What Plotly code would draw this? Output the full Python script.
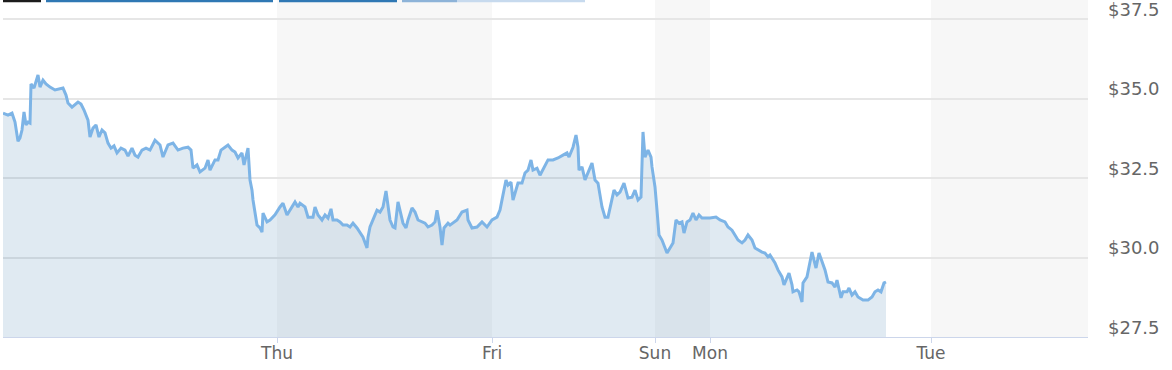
import plotly.graph_objects as go

# Trading-time axis (weekend gap collapsed); unit = session time index
session_t = [3, 8, 12, 15, 18, 20, 22, 24, 26, 28, 30, 31, 34, 36, 38, 40, 43, 46, 50, 55,
             60, 63, 66, 68, 72, 75, 78, 81, 84, 88, 90, 93, 96, 99, 102, 105, 108, 111, 114, 117,
             121, 125, 128, 132, 135, 138, 142, 146, 150, 155, 160, 163, 168, 173, 178, 183, 188, 191, 193, 197,
             200, 205, 208, 210, 215, 218, 221, 225, 228, 232, 235, 238, 242, 244, 248, 250, 252, 253, 256, 257,
             260, 262, 263, 267, 270, 275, 280, 283, 287, 290, 295, 298, 300, 305, 308, 313, 315, 318, 322, 325,
             328, 331, 333, 337, 340, 343, 347, 350, 353, 357, 360, 363, 367, 368, 370, 373, 377, 380, 383, 386,
             388, 390, 393, 395, 398, 401, 403, 406, 408, 412, 415, 418, 422, 425, 428, 432, 435, 437, 440, 442,
             444, 448, 450, 457, 462, 467, 468, 472, 477, 482, 487, 492, 497, 500, 503, 506, 508, 511, 513, 516,
             518, 522, 525, 528, 531, 533, 537, 540, 544, 548, 553, 558, 563, 567, 569, 573, 576, 578, 579, 582,
             585, 588, 592, 595, 598, 602, 605, 608, 611, 614, 617, 620, 624, 628, 632, 635, 638, 641, 643, 645,
             648, 651, 652, 655, 657, 659, 662, 664, 667, 670, 673, 676, 679, 682, 684, 687, 690, 693, 696, 699,
             702, 705, 710, 716, 720, 725, 728, 732, 735, 738, 742, 745, 748, 752, 755, 758, 762, 765, 768, 770,
             775, 778, 782, 784, 787, 789, 792, 793, 797, 799, 802, 803, 807, 810, 812, 814, 816, 819, 822, 825,
             828, 832, 835, 837, 841, 843, 847, 849, 852, 855, 858, 863, 868, 872, 875, 878, 881, 884, 886]

price = [34.54, 34.48, 34.54, 34.26, 33.66, 33.76, 34.01, 34.58, 34.17, 34.26, 34.23, 35.46, 35.33, 35.58, 35.74, 35.36, 35.58, 35.46, 35.36, 35.27,
         35.30, 35.33, 35.11, 34.86, 34.73, 34.80, 34.89, 34.83, 34.64, 34.32, 33.79, 34.07, 34.17, 33.79, 34.01, 33.92, 33.60, 33.44, 33.51, 33.29,
         33.44, 33.38, 33.19, 33.44, 33.22, 33.16, 33.38, 33.44, 33.38, 33.69, 33.54, 33.16, 33.54, 33.60, 33.38, 33.44, 33.47, 33.38, 32.81, 32.91,
         32.69, 32.81, 33.07, 32.75, 33.07, 33.07, 33.38, 33.47, 33.54, 33.38, 33.32, 33.13, 33.29, 32.91, 33.44, 32.44, 32.12, 31.81, 31.27, 31.02,
         30.93, 30.80, 31.40, 31.12, 31.18, 31.34, 31.59, 31.71, 31.34, 31.49, 31.75, 31.59, 31.71, 31.59, 31.27, 31.27, 31.59, 31.34, 31.18, 31.34,
         31.24, 31.53, 31.18, 31.18, 31.12, 31.02, 31.02, 30.96, 31.08, 30.93, 30.80, 30.64, 30.30, 30.64, 30.96, 31.18, 31.49, 31.43, 31.59, 32.09,
         31.59, 31.18, 30.96, 30.93, 31.75, 31.40, 31.08, 30.93, 31.18, 31.56, 31.43, 31.18, 31.12, 31.08, 30.96, 31.02, 31.12, 31.49, 30.96, 30.39,
         30.93, 31.08, 31.02, 31.18, 31.43, 31.49, 31.18, 30.93, 30.96, 31.12, 30.96, 31.18, 31.27, 31.49, 31.97, 32.44, 32.28, 32.37, 31.81, 32.12,
         32.34, 32.34, 32.66, 32.75, 33.07, 32.75, 32.81, 32.59, 32.81, 33.07, 33.07, 33.13, 33.22, 33.29, 33.16, 33.47, 33.85, 33.47, 32.75, 32.85,
         32.44, 32.66, 32.97, 32.44, 32.34, 31.59, 31.27, 31.27, 31.65, 32.12, 31.97, 32.06, 32.34, 31.87, 31.90, 32.12, 31.81, 31.90, 33.95, 33.16,
         33.38, 33.16, 32.85, 32.22, 31.49, 30.71, 30.55, 30.39, 30.14, 30.30, 30.46, 31.18, 31.08, 31.12, 30.77, 31.12, 31.18, 31.40, 31.18, 31.34,
         31.24, 31.24, 31.24, 31.27, 31.18, 31.12, 30.96, 30.86, 30.71, 30.55, 30.46, 30.55, 30.71, 30.55, 30.30, 30.24, 30.17, 30.14, 30.02, 30.08,
         29.83, 29.61, 29.39, 29.14, 29.39, 29.51, 29.14, 28.92, 28.98, 28.92, 28.60, 29.20, 29.39, 29.86, 30.17, 29.92, 29.67, 30.14, 29.86, 29.61,
         29.23, 29.20, 29.07, 29.29, 28.73, 28.92, 28.92, 29.04, 28.82, 28.92, 28.76, 28.66, 28.66, 28.76, 28.92, 28.98, 28.92, 29.20, 29.23]

day_labels = ["Thu", "Fri", "Sun", "Mon", "Tue"]
day_starts = [277, 492, 655, 710, 931]
axis_end = 1088
axis_start = 3
# alternate-day shaded bands (start, end)
band_days = [(277, 492), (655, 710), (931, 1088)]

y_ticks = [27.5, 30.0, 32.5, 35.0, 37.5]
y_ticktext = ["$27.5", "$30.0", "$32.5", "$35.0", "$37.5"]
y_range = [27.5, 38.1]

FONT = "DejaVu Sans"
LINE = "#7db4e6"
LABEL = "#666666"

fig = go.Figure()
fig.add_trace(go.Scatter(
    x=session_t, y=price, mode="lines",
    line=dict(color=LINE, width=3),
    fill="tozeroy", fillcolor="rgba(70,130,180,0.17)",
    hoverinfo="skip", showlegend=False,
))

shapes = []
for a, b in band_days:
    shapes.append(dict(type="rect", xref="x", yref="paper", x0=a, x1=b, y0=0, y1=1,
                       fillcolor="#f7f7f7", line=dict(width=0), layer="below"))

# cut-off toolbar strip at very top (decoration)
top_strip = [(3, 41, "#1c1c1c"), (46, 273, "#2f78b4"), (279, 397, "#2f78b4"),
             (402, 457, "#8db3d8"), (457, 585, "#c7daee")]
for a, b, c in top_strip:
    shapes.append(dict(type="rect", xref="x", yref="paper", x0=a, x1=b, y0=1 - 2.2 / 337, y1=1,
                       fillcolor=c, line=dict(width=0), layer="above"))

# y-axis labels sit just above their gridlines
annotations = [dict(x=1, xref="paper", y=v, yref="y", text=t, showarrow=False,
                    xanchor="left", yanchor="middle", xshift=18, yshift=10,
                    font=dict(family=FONT, size=18, color=LABEL))
               for v, t in zip(y_ticks, y_ticktext)]

fig.update_layout(
    width=1172, height=370,
    margin=dict(l=3, r=84, t=0, b=33),
    paper_bgcolor="white", plot_bgcolor="white",
    shapes=shapes, annotations=annotations,
    font=dict(family=FONT, color=LABEL, size=17),
    xaxis=dict(
        range=[axis_start, axis_end], tickvals=day_starts, ticktext=day_labels,
        showgrid=False, zeroline=False, showline=True, linecolor="#ccd6eb", linewidth=1,
        ticks="outside", ticklen=5, tickcolor="#ccd6eb", tickwidth=1,
        ticklabelstandoff=-4,
        tickfont=dict(family=FONT, size=17, color=LABEL),
    ),
    yaxis=dict(
        side="right", range=y_range, tickvals=y_ticks, showticklabels=False,
        showgrid=True, gridcolor="#e6e6e6", gridwidth=1.5, zeroline=False, showline=False,
        ticks="",
    ),
)

fig.write_html("out.html")
